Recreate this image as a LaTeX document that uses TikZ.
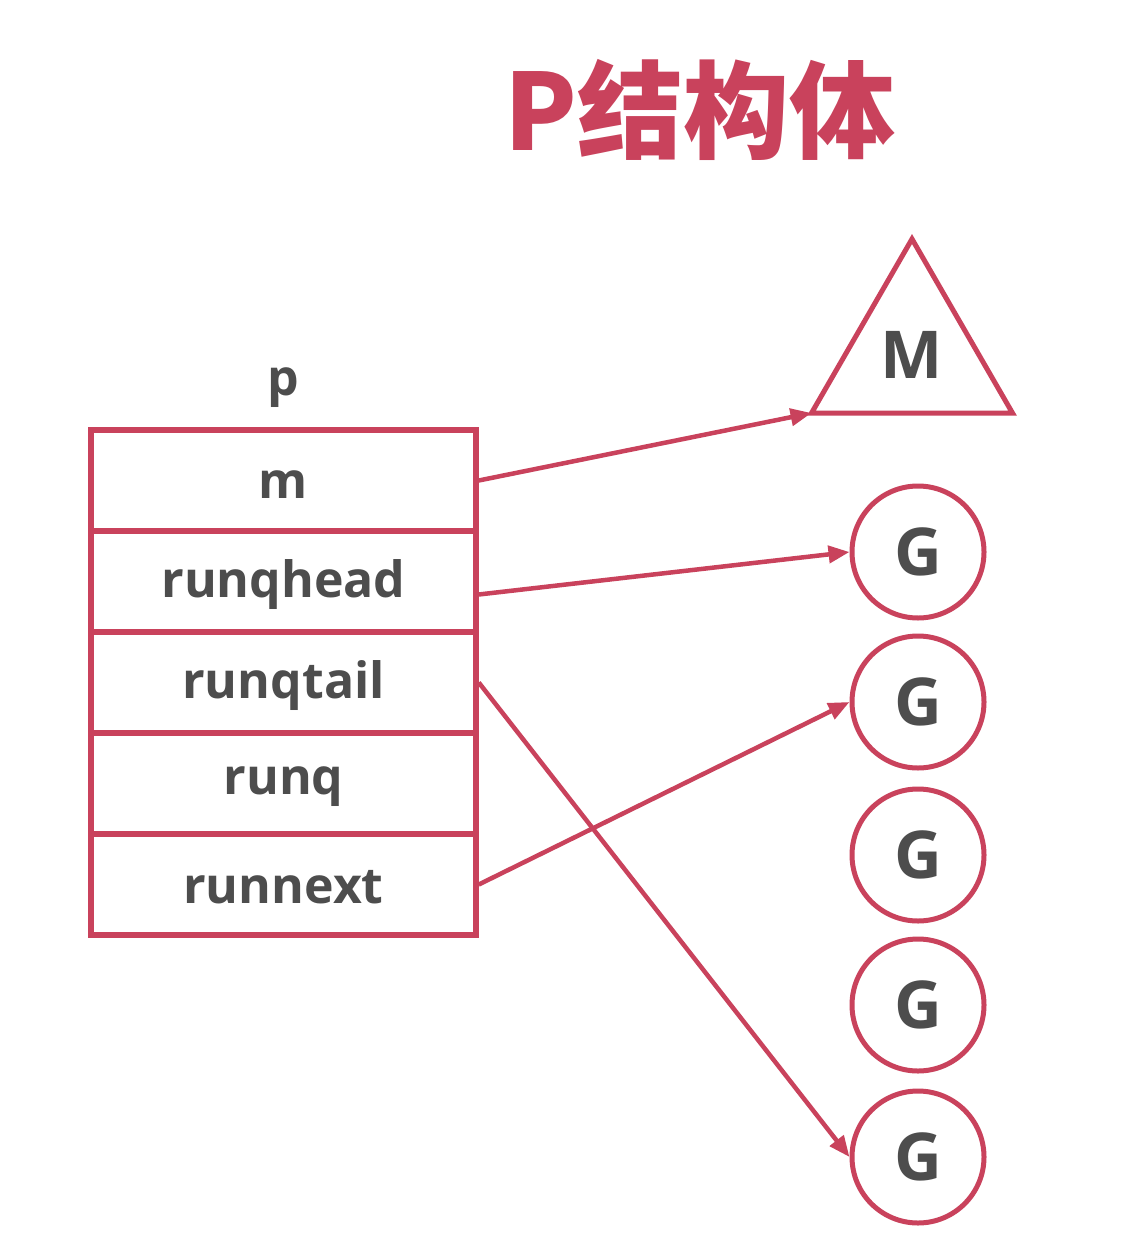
\documentclass[tikz,border=0pt]{standalone}
\usepackage{fontspec}
\setmainfont{Open Sans}
\newfontfamily\cjk{Noto Sans CJK SC}
\usetikzlibrary{shapes.geometric,arrows.meta}
\definecolor{pred}{RGB}{201,66,92}
\definecolor{ptext}{RGB}{77,77,77}
\tikzset{
  rowbox/.style={draw=pred, line width=5.5pt, minimum width=385pt, minimum height=101pt, inner sep=0pt, text=ptext, font=\fontsize{50}{56}\selectfont\bfseries},
  rowtext/.style={text=ptext, font=\fontsize{50}{56}\selectfont\bfseries},
  gnode/.style={circle, draw=pred, line width=5pt, minimum size=132pt, inner sep=0pt, text=ptext, font=\fontsize{66}{72}\selectfont\bfseries},
  mnode/.style={regular polygon, regular polygon sides=3, draw=pred, line width=5pt, minimum size=232pt, inner sep=0pt, outer sep=0pt, text=ptext, font=\fontsize{66}{72}\selectfont\bfseries},
  parrow/.style={draw=pred, line width=4.5pt, -{Triangle[length=21pt,width=17pt]}}
}
\begin{document}
\begin{tikzpicture}[x=1pt,y=-1pt]
\useasboundingbox[fill=white] (0,0) rectangle (1120,1244);
\node[text=pred, font=\cjk\bfseries\fontsize{106}{116}\selectfont] (title) at (700,110) {P结构体};
\node[rowtext] (plabel) at (283,388) {p};
\node[rowbox] (m) at (283.5,480.5) {};
\node[rowbox] (rh) at (283.5,581.5) {};
\node[rowbox] (rt) at (283.5,682.5) {};
\node[rowbox] (rq) at (283.5,783.5) {};
\node[rowbox] (rn) at (283.5,884.5) {};
\node[rowtext] (mt) at ([yshift=-4pt]m.center) {m};
\node[rowtext] (rht) at ([yshift=-3pt]rh.center) {runqhead};
\node[rowtext] (rtt) at ([yshift=-3pt]rt.center) {runqtail};
\node[rowtext] (rqt) at ([yshift=-3pt]rq.center) {runq};
\node[rowtext] (rnt) at ([yshift=-3pt]rn.center) {runnext};
\node[mnode] (M) at (912,355) {M};
\node[gnode] (g1) at (918,552) {G};
\node[gnode] (g2) at (918,702) {G};
\node[gnode] (g3) at (918,855) {G};
\node[gnode] (g4) at (918,1005) {G};
\node[gnode] (g5) at (918,1157) {G};
\draw[parrow] (m.east) -- (M.corner 2);
\draw[parrow] ([yshift=-13pt]rh.east) -- (g1.west);
\draw[parrow] (rt.east) -- (g5.west);
\draw[parrow] (rn.east) -- (g2.west);
\end{tikzpicture}
\end{document}
